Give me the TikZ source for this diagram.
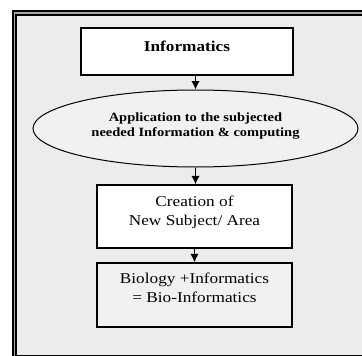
\documentclass[tikz,border=0pt]{standalone}
\usepackage{fontspec}
\setmainfont[FakeStretch=1.15]{Liberation Serif}
\usepackage{xcolor}
\usepackage{tikz}
\usetikzlibrary{shapes.geometric,arrows.meta}

\definecolor{panelgray}{HTML}{ECECEC}
\definecolor{softgray}{HTML}{F1F1F1}

\begin{document}
\begin{tikzpicture}[x=1pt, y=-1pt,
  box/.style={draw, line width=1.3pt, fill=white, align=center, inner sep=0pt},
  arr/.style={line width=1.4pt, -{Latex[length=8.5pt,width=8.5pt]}}]
\useasboundingbox (0,0) rectangle (362,356);
\clip (0,0) rectangle (362,356);

% Frame
\fill[panelgray] (14.7,13) rectangle (380,357.8);
\draw[line width=1.9pt, double=gray!70, double distance=1.3pt] (14.7,13) rectangle (380,357.8);

% Boxes
\node[box, minimum width=212pt, minimum height=47pt, text depth=11pt, font=\bfseries\fontsize{15}{19}\selectfont] (informatics) at (187,51.5) {Informatics};
\node[ellipse, draw, line width=1pt, fill=softgray, minimum width=325pt, minimum height=77pt, inner sep=0pt, align=center, text depth=7pt, font=\bfseries\fontsize{12.6}{15}\selectfont] (application) at (195.5,128.5) {Application to the subjected\\needed Information \& computing};
\node[box, minimum width=195pt, minimum height=63pt, text depth=12pt, font=\fontsize{15}{19}\selectfont] (creation) at (194.5,216.5) {Creation of\\New Subject/ Area};
\node[box, fill=softgray, minimum width=195pt, minimum height=64pt, text depth=14pt, font=\fontsize{15}{19}\selectfont] (bioinf) at (194.5,295) {Biology +Informatics\\= Bio-Informatics};

% Arrows
\draw[arr] (informatics.south -| application.north) -- (application.north);
\draw[arr] (application.south) -- (application.south |- creation.north);
\draw[arr] (creation.south) -- (bioinf.north);

\end{tikzpicture}
\end{document}
